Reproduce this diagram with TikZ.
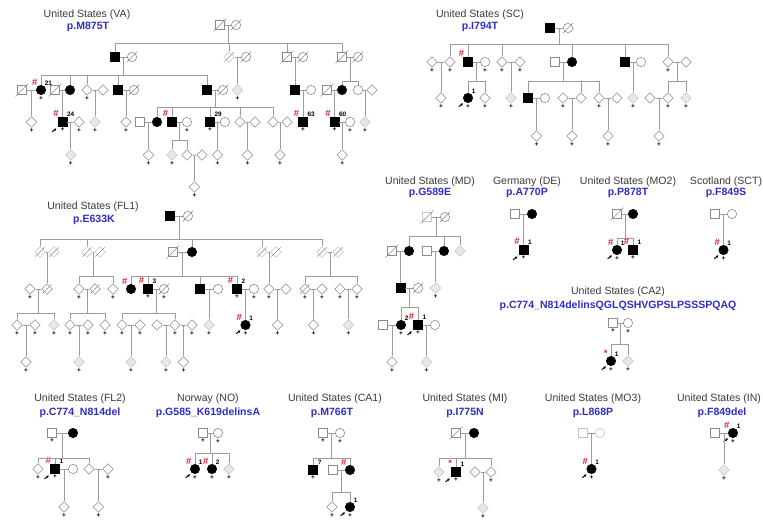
\documentclass[tikz,border=0pt]{standalone}
\usepackage{fontspec}
\setmainfont{Liberation Sans}
\usetikzlibrary{shapes.geometric, calc, arrows.meta}
\definecolor{lngray}{HTML}{9C9C9C}
\definecolor{symgray}{HTML}{8C8C8C}
\definecolor{palegray}{HTML}{C4C4C4}
\definecolor{ttlgray}{HTML}{3A3A3A}
\definecolor{mutblue}{HTML}{2F2FC4}
\definecolor{hashred}{HTML}{E3262F}

% couple #1--#2, sibship line at height #3, children #4
\newcommand{\kids}[4]{%
  \draw[rel] (#1) -- (#2);
  \coordinate (#1#2) at ($(#1)!.5!(#2)$);
  \draw[rel] (#1#2) -- (#1#2 |- 0,#3);
  \foreach \ch in {#4} {\draw[rel] (\ch) |- (#1#2 |- 0,#3);}
}
% couple #1--#2 with one child #3
\newcommand{\kid}[3]{%
  \draw[rel] (#1) -- (#2);
  \draw[rel] ($(#1)!.5!(#2)$) -- (#3);
}

\begin{document}
\begin{tikzpicture}[x=0.3mm, y=-0.3mm,
  rel/.style={draw=lngray, line width=0.5pt},
  sym/.style={draw=symgray, line width=0.5pt, fill=white, inner sep=0pt},
  male/.style={sym, rectangle, minimum size=7.4pt},
  female/.style={sym, circle, minimum size=8pt},
  unk/.style={sym, diamond, minimum size=9.2pt},
  aff/.style={draw=black, fill=black},
  lite/.style={draw=palegray},
  shade/.style={draw=palegray, fill=gray!18},
  slash/.style={draw=symgray, line width=0.5pt},
  dec/.style={append after command={([shift={(-1.5pt,-1.5pt)}]\tikzlastnode.south west) edge[slash] ([shift={(1.5pt,1.5pt)}]\tikzlastnode.north east)}},
  ttl/.style={font=\fontsize{9}{10}\selectfont, text=ttlgray, inner sep=0pt},
  mut/.style={font=\fontsize{9}{10}\selectfont\bfseries, text=mutblue, inner sep=0pt},
  hashlbl/.style={text=hashred, font=\fontsize{8}{8}\selectfont\bfseries, inner sep=0.4pt, fill=none, draw=none},
  idxlbl/.style={text=black, font=\fontsize{5.5}{6}\selectfont\bfseries, inner sep=0.4pt, fill=none, draw=none},
  tstlbl/.style={text=black, font=\fontsize{5.5}{6}\selectfont\bfseries, inner sep=0.3pt, label distance=0.6pt, fill=none, draw=none},
  hash/.style={label={[hashlbl]125:\#}},
  star/.style={label={[hashlbl]125:*}},
  idx/.style={label={[idxlbl]50:#1}},
  tst/.style={label={[tstlbl]below:+}},
  prbarrow/.style={draw=black, line width=0.8pt, -{Latex[length=2.2pt, width=2.4pt]}},
  prb/.style={append after command={([shift={(-5pt,-4.5pt)}]\tikzlastnode.south west) edge[prbarrow] ([shift={(-1.2pt,-1.5pt)}]\tikzlastnode.south west)}}]

\useasboundingbox (0,0) rectangle (763,523);
\fill[white] (0,0) rectangle (763,523);

% ---- United States (VA)
\node[ttl] (tVA) at (87,15) {United States (VA)};
\node[mut] (mVA) at (88,27) {p.M875T};
\node[male,dec] (vaI1) at (220,25) {};
\node[female,dec] (vaI2) at (236,25) {};
\node[male,aff] (vaII1) at (115,57) {};
\node[female,dec] (vaII2) at (132,57) {};
\node[unk,lite,dec] (vaII3) at (229,57) {};
\node[female,dec] (vaII4) at (246,57) {};
\node[male,dec] (vaII5) at (287,57) {};
\node[female,dec] (vaII6) at (303,57) {};
\node[male,dec] (vaII7) at (342,57) {};
\node[female,dec] (vaII8) at (358,57) {};
\node[male,dec] (vaIII1) at (22,90) {};
\node[female,aff,hash,idx=21,tst] (vaIII2) at (41,90) {};
\node[male,dec] (vaIII3) at (55,90) {};
\node[female,aff] (vaIII4) at (70,90) {};
\node[unk,tst] (vaIII5) at (87,90) {};
\node[unk] (vaIII6) at (103,90) {};
\node[male,aff] (vaIII7) at (118,90) {};
\node[female,dec] (vaIII8) at (134,90) {};
\node[male,aff] (vaIII9) at (207,90) {};
\node[female,dec] (vaIII10) at (223,90) {};
\node[unk,shade,tst] (vaIII11) at (237.5,90) {};
\node[male,aff] (vaIII12) at (295,90) {};
\node[female] (vaIII13) at (311,90) {};
\node[male,dec] (vaIII14) at (327,90) {};
\node[female,aff] (vaIII15) at (342,90) {};
\node[female] (vaIII16) at (358,90) {};
\node[unk] (vaIII17) at (372,90) {};
\node[unk,tst] (vaIV1) at (31.5,122) {};
\node[male,aff,hash,idx=24,prb,tst] (vaIV2) at (62.5,122) {};
\node[unk,tst] (vaIV3) at (79,122) {};
\node[unk,shade,tst] (vaIV4) at (95,122) {};
\node[unk,tst] (vaIV5) at (126,122) {};
\node[male] (vaIV6) at (140,122) {};
\node[female,aff] (vaIV7) at (157,122) {};
\node[male,aff,hash] (vaIV8) at (172,122) {};
\node[female,tst] (vaIV9) at (187,122) {};
\node[male,aff,idx=29,tst] (vaIV10) at (210,122) {};
\node[female] (vaIV11) at (225,122) {};
\node[unk] (vaIV12) at (240,122) {};
\node[unk] (vaIV13) at (255,122) {};
\node[unk] (vaIV14) at (273,122) {};
\node[unk] (vaIV15) at (287,122) {};
\node[male,aff,hash,idx=63,tst] (vaIV16) at (303,122) {};
\node[male,aff,hash,idx=60,tst] (vaIV17) at (334.5,122) {};
\node[female,tst] (vaIV18) at (350,122) {};
\node[unk,shade,tst] (vaIV19) at (365,122) {};
\node[unk,shade,tst] (vaV1) at (70.75,155) {};
\node[unk,tst] (vaV2) at (148.5,155) {};
\node[unk,shade,tst] (vaV3) at (172,155) {};
\node[unk] (vaV4) at (187,155) {};
\node[unk] (vaV5) at (202,155) {};
\node[unk,tst] (vaV6) at (217.5,155) {};
\node[unk,tst] (vaV7) at (247.5,155) {};
\node[unk,tst] (vaV8) at (280,155) {};
\node[unk,tst] (vaV9) at (342.25,155) {};
\node[unk,tst] (vaVI1) at (194.5,187) {};
\kids{vaI1}{vaI2}{43}{vaII1,vaII3,vaII5,vaII7}
\kids{vaII1}{vaII2}{75}{vaIII2,vaIII4,vaIII5,vaIII7,vaIII9}
\kid{vaII3}{vaII4}{vaIII11}
\kid{vaII5}{vaII6}{vaIII12}
\kids{vaII7}{vaII8}{81}{vaIII15,vaIII16}
\kid{vaIII1}{vaIII2}{vaIV1}
\kid{vaIII3}{vaIII4}{vaIV2}
\kid{vaIII5}{vaIII6}{vaIV4}
\kid{vaIII7}{vaIII8}{vaIV5}
\kids{vaIII9}{vaIII10}{107}{vaIV7,vaIV8,vaIV10,vaIV12,vaIV14}
\kid{vaIII12}{vaIII13}{vaIV16}
\kid{vaIII14}{vaIII15}{vaIV17}
\kid{vaIII16}{vaIII17}{vaIV19}
\kid{vaIV2}{vaIV3}{vaV1}
\kid{vaIV6}{vaIV7}{vaV2}
\kids{vaIV8}{vaIV9}{140}{vaV3,vaV4}
\kid{vaIV10}{vaIV11}{vaV6}
\kid{vaIV12}{vaIV13}{vaV7}
\kid{vaIV14}{vaIV15}{vaV8}
\kid{vaIV17}{vaIV18}{vaV9}
\kid{vaV4}{vaV5}{vaVI1}

% ---- United States (SC)
\node[ttl] (tSC) at (480,15) {United States (SC)};
\node[mut] (mSC) at (480,27) {p.I794T};
\node[male,aff] (scI1) at (550,28) {};
\node[female,dec] (scI2) at (568,28) {};
\node[unk,tst] (scII1) at (432,62) {};
\node[unk,tst] (scII2) at (450,62) {};
\node[male,aff,hash] (scII3) at (468,62) {};
\node[female,tst] (scII4) at (485,62) {};
\node[unk,tst] (scII5) at (502,62) {};
\node[unk,tst] (scII6) at (520,62) {};
\node[male] (scII7) at (555,62) {};
\node[female,aff] (scII8) at (572,62) {};
\node[male,aff] (scII9) at (625,62) {};
\node[female] (scII10) at (641,62) {};
\node[unk,tst] (scII11) at (668,62) {};
\node[unk] (scII12) at (686,62) {};
\node[unk,tst] (scIII1) at (441,98) {};
\node[female,aff,idx=1,prb,tst] (scIII2) at (468,98) {};
\node[unk,tst] (scIII3) at (485,98) {};
\node[unk,shade,tst] (scIII4) at (511,98) {};
\node[male,aff] (scIII5) at (528,98) {};
\node[female] (scIII6) at (545,98) {};
\node[unk,tst] (scIII7) at (563,98) {};
\node[unk] (scIII8) at (581,98) {};
\node[unk,tst] (scIII9) at (599,98) {};
\node[unk] (scIII10) at (617,98) {};
\node[unk,shade,tst] (scIII11) at (633,98) {};
\node[unk] (scIII12) at (650,98) {};
\node[unk,tst] (scIII13) at (668,98) {};
\node[unk,shade,tst] (scIII14) at (686,98) {};
\node[unk,tst] (scIV1) at (536.5,136) {};
\node[unk,tst] (scIV2) at (572,136) {};
\node[unk,tst] (scIV3) at (608,136) {};
\node[unk,tst] (scIV4) at (659,136) {};
\kids{scI1}{scI2}{44}{scII2,scII3,scII5,scII8,scII9,scII11}
\kid{scII1}{scII2}{scIII1}
\kids{scII3}{scII4}{81}{scIII2,scIII3}
\kid{scII5}{scII6}{scIII4}
\kids{scII7}{scII8}{81}{scIII5,scIII8,scIII9}
\kid{scII9}{scII10}{scIII11}
\kids{scII11}{scII12}{81}{scIII13,scIII14}
\kid{scIII5}{scIII6}{scIV1}
\kid{scIII7}{scIII8}{scIV2}
\kid{scIII9}{scIII10}{scIV3}
\kid{scIII12}{scIII13}{scIV4}

% ---- United States (FL1)
\node[ttl] (tFL1) at (93,207) {United States (FL1)};
\node[mut] (mFL1) at (94,220) {p.E633K};
\node[male,aff] (flI1) at (170,216) {};
\node[female,dec] (flI2) at (188,216) {};
\node[unk,lite,dec] (flII1) at (40,252) {};
\node[unk,lite,dec] (flII2) at (54,252) {};
\node[unk,lite,dec] (flII3) at (87,252) {};
\node[unk,lite,dec] (flII4) at (100,252) {};
\node[male,dec] (flII5) at (173,252) {};
\node[female,aff] (flII6) at (192,252) {};
\node[unk,lite,dec] (flII7) at (262,252) {};
\node[unk,lite,dec] (flII8) at (276,252) {};
\node[unk,lite,dec] (flII9) at (322,252) {};
\node[unk,lite,dec] (flII10) at (338,252) {};
\node[unk,tst] (flIII1) at (30,289) {};
\node[unk,dec] (flIII2) at (47,289) {};
\node[unk,tst] (flIII3) at (79,289) {};
\node[unk,dec] (flIII4) at (95,289) {};
\node[unk,tst] (flIII5) at (113,289) {};
\node[female,aff,hash] (flIII6) at (131,289) {};
\node[male,aff,hash,idx=3,tst] (flIII7) at (148,289) {};
\node[female,dec,tst] (flIII8) at (164,289) {};
\node[male,aff] (flIII9) at (200,289) {};
\node[female] (flIII10) at (218,289) {};
\node[male,aff,hash,idx=2,tst] (flIII11) at (237,289) {};
\node[female,tst] (flIII12) at (254,289) {};
\node[unk,tst] (flIII13) at (269,289) {};
\node[unk] (flIII14) at (286,289) {};
\node[unk,dec,tst] (flIII15) at (305,289) {};
\node[unk,tst] (flIII16) at (322,289) {};
\node[unk,tst] (flIII17) at (340,289) {};
\node[unk,tst] (flIII18) at (357,289) {};
\node[unk,tst] (flIV1) at (17,325) {};
\node[unk,tst] (flIV2) at (35,325) {};
\node[unk,shade,tst] (flIV3) at (54,325) {};
\node[unk,tst] (flIV4) at (70,325) {};
\node[unk,tst] (flIV5) at (88,325) {};
\node[unk,tst] (flIV6) at (105,325) {};
\node[unk,tst] (flIV7) at (122,325) {};
\node[unk,tst] (flIV8) at (140,325) {};
\node[unk] (flIV9) at (157,325) {};
\node[unk,tst] (flIV10) at (175,325) {};
\node[unk,tst] (flIV11) at (192,325) {};
\node[unk,shade,tst] (flIV12) at (209,325) {};
\node[female,aff,hash,idx=1,prb,tst] (flIV13) at (245.5,325) {};
\node[unk,tst] (flIV14) at (277.5,325) {};
\node[unk,tst] (flIV15) at (313.5,325) {};
\node[unk,shade,tst] (flIV16) at (348.5,325) {};
\node[unk,tst] (flV1) at (26,362) {};
\node[unk,shade,tst] (flV2) at (79,362) {};
\node[unk,shade,tst] (flV3) at (131,362) {};
\node[unk,shade,tst] (flV4) at (166,362) {};
\node[unk,tst] (flV5) at (183.5,362) {};
\kids{flI1}{flI2}{239}{flII1,flII3,flII6,flII7,flII9}
\kid{flII1}{flII2}{flIII2}
\kids{flII3}{flII4}{276}{flIII3,flIII5}
\kids{flII5}{flII6}{276}{flIII6,flIII7,flIII9,flIII11}
\kid{flII7}{flII8}{flIII13}
\kids{flII9}{flII10}{276}{flIII15,flIII18}
\kids{flIII1}{flIII2}{313}{flIV1,flIV3}
\kids{flIII3}{flIII4}{313}{flIV4,flIV6}
\kids{flIII7}{flIII8}{313}{flIV7,flIV10}
\kid{flIII9}{flIII10}{flIV12}
\kid{flIII11}{flIII12}{flIV13}
\kid{flIII13}{flIII14}{flIV14}
\kid{flIII15}{flIII16}{flIV15}
\kid{flIII17}{flIII18}{flIV16}
\kid{flIV1}{flIV2}{flV1}
\kid{flIV4}{flIV5}{flV2}
\kid{flIV7}{flIV8}{flV3}
\kid{flIV9}{flIV10}{flV4}
\kid{flIV10}{flIV11}{flV5}

% ---- United States (MD)
\node[ttl] (tMD) at (430,182) {United States (MD)};
\node[mut] (mMD) at (430,193) {p.G589E};
\node[male,lite,dec] (mdI1) at (427,217) {};
\node[female,dec] (mdI2) at (445,217) {};
\node[male,dec] (mdII1) at (392,251) {};
\node[female,aff] (mdII2) at (409,251) {};
\node[male] (mdII3) at (427,251) {};
\node[female,aff] (mdII4) at (444,251) {};
\node[unk,shade] (mdII5) at (460,251) {};
\node[male,aff] (mdIII1) at (400.5,288) {};
\node[female,dec] (mdIII2) at (418,288) {};
\node[unk,shade,tst] (mdIII3) at (435.5,288) {};
\node[male] (mdIV1) at (383,325) {};
\node[female,aff,idx=2,tst] (mdIV2) at (401,325) {};
\node[male,aff,hash,idx=1,prb,tst] (mdIV3) at (418,325) {};
\node[female] (mdIV4) at (435,325) {};
\node[unk,tst] (mdV1) at (392,362) {};
\node[unk,shade,tst] (mdV2) at (426.5,362) {};
\kids{mdI1}{mdI2}{236}{mdII2,mdII4,mdII5}
\kid{mdII1}{mdII2}{mdIII1}
\kid{mdII3}{mdII4}{mdIII3}
\kids{mdIII1}{mdIII2}{307}{mdIV2,mdIV3}
\kid{mdIV1}{mdIV2}{mdV1}
\kid{mdIV3}{mdIV4}{mdV2}

% ---- Germany (DE)
\node[ttl] (tDE) at (527,182) {Germany (DE)};
\node[mut] (mDE) at (527,193) {p.A770P};
\node[male] (deI1) at (515,214) {};
\node[female,aff] (deI2) at (532,214) {};
\node[male,aff,hash,idx=1,prb,tst] (deII1) at (523.5,250) {};
\kid{deI1}{deI2}{deII1}

% ---- United States (MO2)
\node[ttl] (tMO2) at (628,182) {United States (MO2)};
\node[mut] (mMO2) at (628,193) {p.P878T};
\node[male,dec] (moI1) at (617,214) {};
\node[female,aff] (moI2) at (633,214) {};
\node[female,aff,hash,idx=1,prb,tst] (moII1) at (617,250) {};
\node[male,aff,hash,idx=1,tst] (moII2) at (633,250) {};
\kids{moI1}{moI2}{238}{moII1,moII2}

% ---- Scotland (SCT)
\node[ttl] (tSCT) at (726,182) {Scotland (SCT)};
\node[mut] (mSCT) at (726,193) {p.F849S};
\node[male] (sctI1) at (715,214) {};
\node[female] (sctI2) at (732,214) {};
\node[female,aff,hash,idx=1,prb,tst] (sctII1) at (723.5,250) {};
\kid{sctI1}{sctI2}{sctII1}

% ---- United States (CA2)
\node[ttl] (tCA2) at (618,292) {United States (CA2)};
\node[mut] (mCA2) at (618,306) {p.C774\_N814delinsQGLQSHVGPSLPSSSPQAQ};
\node[male,tst] (caI1) at (613,323) {};
\node[female,tst] (caI2) at (628,323) {};
\node[female,aff,star,idx=1,prb,tst] (caII1) at (611,361) {};
\node[unk,shade,tst] (caII2) at (628,361) {};
\kids{caI1}{caI2}{344}{caII1,caII2}

% ---- United States (FL2)
\node[ttl] (tFL2) at (80,399) {United States (FL2)};
\node[mut] (mFL2) at (80,413) {p.C774\_N814del};
\node[male,tst] (fl2I1) at (52,433) {};
\node[female,aff] (fl2I2) at (73,433) {};
\node[unk,tst] (fl2II1) at (38,469) {};
\node[male,aff,hash,idx=1,prb,tst] (fl2II2) at (55,469) {};
\node[female] (fl2II3) at (73,469) {};
\node[unk] (fl2II4) at (89,469) {};
\node[unk,tst] (fl2II5) at (108,469) {};
\node[unk,tst] (fl2III1) at (64,507) {};
\node[unk,tst] (fl2III2) at (98.5,507) {};
\kids{fl2I1}{fl2I2}{458}{fl2II1,fl2II2,fl2II4}
\kid{fl2II2}{fl2II3}{fl2III1}
\kid{fl2II4}{fl2II5}{fl2III2}

% ---- Norway (NO)
\node[ttl] (tNO) at (208,399) {Norway (NO)};
\node[mut] (mNO) at (208,413) {p.G585\_K619delinsA};
\node[male,tst] (noI1) at (203,433) {};
\node[female,tst] (noI2) at (218,433) {};
\node[female,aff,hash,idx=1,prb,tst] (noII1) at (195,469) {};
\node[female,aff,hash,idx=2,tst] (noII2) at (212,469) {};
\node[unk,shade,tst] (noII3) at (229,469) {};
\kids{noI1}{noI2}{453}{noII1,noII2,noII3}

% ---- United States (CA1)
\node[ttl] (tCA1) at (335,399) {United States (CA1)};
\node[mut] (mCA1) at (332,413) {p.M766T};
\node[male,tst] (ca1I1) at (323,433) {};
\node[female,tst] (ca1I2) at (340,433) {};
\node[male,aff,idx=?,tst] (ca1II1) at (313,470) {};
\node[male] (ca1II2) at (333,470) {};
\node[female,aff,hash] (ca1II3) at (350,470) {};
\node[unk,tst] (ca1III1) at (332,507) {};
\node[female,aff,idx=1,prb,tst] (ca1III2) at (350,507) {};
\kids{ca1I1}{ca1I2}{458}{ca1II1,ca1II3}
\kids{ca1II2}{ca1II3}{492}{ca1III1,ca1III2}

% ---- United States (MI)
\node[ttl] (tMI) at (465,399) {United States (MI)};
\node[mut] (mMI) at (465,413) {p.I775N};
\node[male,dec] (miI1) at (456,433) {};
\node[female,aff] (miI2) at (474,433) {};
\node[unk,shade,tst] (miII1) at (439,472) {};
\node[male,aff,star,idx=1,prb,tst] (miII2) at (456,472) {};
\node[unk] (miII3) at (475,472) {};
\node[unk,tst] (miII4) at (491,472) {};
\node[unk,shade,tst] (miIII1) at (483,508) {};
\kids{miI1}{miI2}{458}{miII1,miII2,miII4}
\kid{miII3}{miII4}{miIII1}

% ---- United States (MO3)
\node[ttl] (tMO3) at (593,399) {United States (MO3)};
\node[mut] (mMO3) at (593,413) {p.L868P};
\node[male,lite] (mo3I1) at (583,433) {};
\node[female,lite] (mo3I2) at (600,433) {};
\node[female,aff,hash,idx=1,prb,tst] (mo3II1) at (591.5,469) {};
\kid{mo3I1}{mo3I2}{mo3II1}

% ---- United States (IN)
\node[ttl] (tIN) at (719,399) {United States (IN)};
\node[mut] (mIN) at (722,413) {p.F849del};
\node[male] (inI1) at (715,433) {};
\node[female,aff,hash,idx=1,prb,tst] (inI2) at (733,433) {};
\node[unk,shade,tst] (inII1) at (724,470) {};
\kid{inI1}{inI2}{inII1}

\end{tikzpicture}
\end{document}
